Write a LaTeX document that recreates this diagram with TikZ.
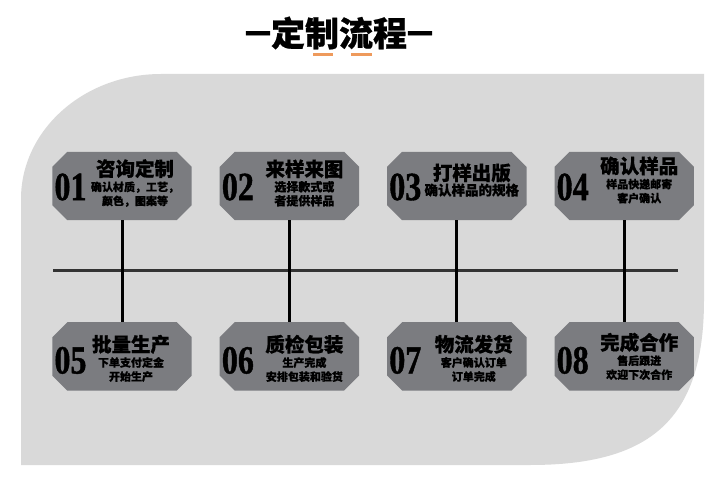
\documentclass[tikz,border=0pt]{standalone}
\usepackage{fontspec}
\newfontfamily\cjk{Noto Sans CJK SC}[BoldFeatures={FakeBold=0.7}]
\newfontfamily\numserif{Liberation Serif}[FakeStretch=0.8, BoldFeatures={FakeBold=1}]
\usepackage{tikz}
\usetikzlibrary{positioning}

\definecolor{panelgray}{HTML}{D9D9D9}
\definecolor{boxgray}{HTML}{7B7C80}
\definecolor{accent}{HTML}{EE9A5C}
\newcommand{\steptitle}[1]{{\fontsize{19.5}{22}\selectfont #1}\\[1pt]}

\begin{document}
\begin{tikzpicture}[
    x=1pt, y=-1pt,
    node distance=102pt and 28pt,
    stepbox/.style={rectangle, minimum width=139pt, minimum height=68pt, inner sep=0pt},
    num/.style={font=\numserif\bfseries\fontsize{40}{40}\selectfont, inner sep=0pt},
    info/.style={align=center, inner sep=0pt, font=\cjk\bfseries\fontsize{11}{14}\selectfont},
    stem/.style={line width=3pt, black},
    spine/.style={line width=3pt, black!80}
]
\useasboundingbox (0,0) rectangle (720,500);
\fill[white] (0,0) rectangle (720,500);

% title
\node[font=\cjk\bfseries\fontsize{34}{34}\selectfont, inner sep=0pt] (title) at (339,33) {－\kern-4pt 定制流程\kern-4pt －};
\draw[accent, line width=3pt] (313,55) -- (333,55);
\draw[accent, line width=3pt] (351,55) -- (372,55);

% panel
\fill[panelgray] (21,465) -- (21,199) .. controls (21,130) and (84,74) .. (161,74) -- (704,74) -- (704,300) .. controls (704,420) and (650,465) .. (530,465) -- cycle;

% boxes
\node[stepbox] (b1) at (122,186) {};
\node[stepbox, right=of b1] (b2) {};
\node[stepbox, right=of b2] (b3) {};
\node[stepbox, right=of b3] (b4) {};
\node[stepbox, below=of b1] (b5) {};
\node[stepbox, below=of b2] (b6) {};
\node[stepbox, below=of b3] (b7) {};
\node[stepbox, below=of b4] (b8) {};

% cut corners
\foreach \b in {b1,b2,b3,b4,b5,b6,b7,b8}
  \fill[boxgray] ([xshift=15pt]\b.north west) -- ([xshift=-15pt]\b.north east)
    -- ([yshift=-15pt]\b.north east) -- ([yshift=15pt]\b.south east)
    -- ([xshift=-15pt]\b.south east) -- ([xshift=15pt]\b.south west)
    -- ([yshift=15pt]\b.south west) -- ([yshift=-15pt]\b.north west) -- cycle;

% numbers
\node[num, right=2pt of b1.west, yshift=-1pt] (n1) {01};
\node[num, right=2pt of b2.west, yshift=-1pt] (n2) {02};
\node[num, right=2pt of b3.west, yshift=-1pt] (n3) {03};
\node[num, right=2pt of b4.west, yshift=-1pt] (n4) {04};
\node[num, right=2pt of b5.west, yshift=-4pt] (n5) {05};
\node[num, right=2pt of b6.west, yshift=-4pt] (n6) {06};
\node[num, right=2pt of b7.west, yshift=-4pt] (n7) {07};
\node[num, right=2pt of b8.west, yshift=-4pt] (n8) {08};

% texts
\node[info] (c1) at ([xshift=13pt, yshift=3pt]b1.center) {\steptitle{咨询定制}确认材质，工艺，\\颜色，图案等};
\node[info] (c2) at ([xshift=15pt, yshift=3pt]b2.center) {\steptitle{来样来图}{\fontsize{12}{14}\selectfont 选择款式或}\\{\fontsize{12}{14}\selectfont 者提供样品}};
\node[info] (c3) at ([xshift=15pt, yshift=6pt]b3.center) {\steptitle{打样出版}{\fontsize{13.5}{15}\selectfont 确认样品的规格}};
\node[info] (c4) at ([xshift=15pt, yshift=6pt]b4.center) {\steptitle{确认样品}样品快递邮寄\\客户确认};
\node[info] (c5) at ([xshift=9pt, yshift=-2pt]b5.center) {\steptitle{批量生产}下单支付定金\\开始生产};
\node[info] (c6) at ([xshift=15pt, yshift=-2pt]b6.center) {\steptitle{质检包装}生产完成\\安排包装和验货};
\node[info] (c7) at ([xshift=17pt, yshift=-2pt]b7.center) {\steptitle{物流发货}客户确认订单\\订单完成};
\node[info] (c8) at ([xshift=15pt, yshift=0pt]b8.center) {\steptitle{完成合作}售后跟进\\欢迎下次合作};

% connectors
\coordinate (sl) at (53,270);
\coordinate (sr) at (678,270);
\draw[spine] (sl) -- (sr);
\draw[stem] (b1) -- (b5);
\draw[stem] (b2) -- (b6);
\draw[stem] (b3) -- (b7);
\draw[stem] (b4) -- (b8);

\end{tikzpicture}
\end{document}
